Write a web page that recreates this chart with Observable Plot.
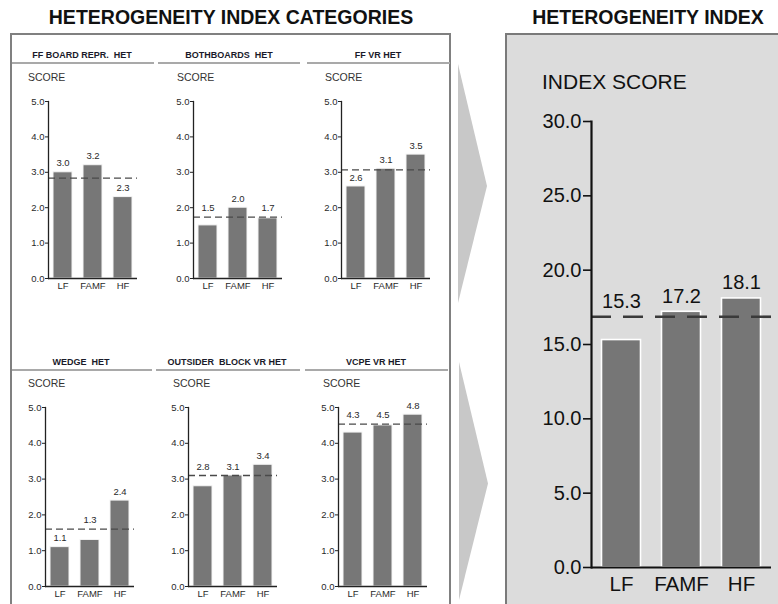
<!DOCTYPE html>
<html>
<head>
<meta charset="utf-8">
<script src="https://cdn.jsdelivr.net/npm/d3@7"></script>
<script src="https://cdn.jsdelivr.net/npm/@observablehq/plot@0.6"></script>
<style>
  html, body { margin: 0; padding: 0; background: #fff; }
  #root { position: relative; width: 778px; height: 604px; overflow: hidden; background: #fff;
          font-family: 'Liberation Sans', Arial, Helvetica, sans-serif; }
  .abs { position: absolute; }
  .title { font-weight: bold; font-size: 19.5px; color: #111; white-space: nowrap; transform: translate(-50%, -50%); }
  .ptitle { font-weight: bold; font-size: 9px; color: #1a1a2a; white-space: pre; transform: translate(-50%, -50%); }
  .hline { height: 2px; background: #a9a9a9; }
  .score { font-size: 10.5px; color: #333; transform: translateY(-50%); white-space: nowrap; }
  .chev { background: #c8c8c8; clip-path: polygon(0 0, 100% 51%, 0 100%); }
  .plot { position: absolute; }
</style>
</head>
<body>
<div id="root"></div>
<script>
// ---- data ----
const groups = ["LF", "FAMF", "HF"];
const categoryTitles = ["FF BOARD REPR.  HET", "BOTHBOARDS  HET", "FF VR HET",
                        "WEDGE  HET", "OUTSIDER  BLOCK VR HET", "VCPE VR HET"];
const ffBoardRepr     = [3.0, 3.2, 2.3];
const bothboards      = [1.5, 2.0, 1.7];
const ffVr            = [2.6, 3.1, 3.5];
const wedge           = [1.1, 1.3, 2.4];
const outsiderBlockVr = [2.8, 3.1, 3.4];
const vcpeVr          = [4.3, 4.5, 4.8];
const indexScore      = [15.3, 17.2, 18.1];
const categoryTicks   = [0, 1, 2, 3, 4, 5];
const indexTicks      = [0, 5, 10, 15, 20, 25, 30];
const mainTitle   = "HETEROGENEITY INDEX CATEGORIES";
const indexTitle  = "HETEROGENEITY INDEX";
const scoreLabel  = "SCORE";
const indexLabel  = "INDEX SCORE";

const categorySeries = [ffBoardRepr, bothboards, ffVr, wedge, outsiderBlockVr, vcpeVr];

// ---- page furniture ----
const FONT = "'Liberation Sans', Arial, Helvetica, sans-serif";
const root = document.getElementById("root");
function el(cls, css, text) {
  const d = document.createElement("div");
  d.className = "abs " + cls;
  Object.assign(d.style, css);
  if (text != null) d.textContent = text;
  root.appendChild(d);
  return d;
}

// outer boxes
el("", {left: "10px", top: "33px", width: "441px", height: "640px", border: "2px solid #808080", boxSizing: "border-box"});
el("", {left: "505px", top: "33px", width: "320px", height: "640px", border: "2px solid #7a7a7a", background: "#dcdcdc", boxSizing: "border-box"});

// arrows between the two boxes
el("chev", {left: "458px", top: "64px", width: "29px", height: "239px"});
el("chev", {left: "459px", top: "362px", width: "29px", height: "238px"});

// headings
el("title", {left: "231px", top: "17px"}, mainTitle);
el("title", {left: "648px", top: "17px"}, indexTitle);

// small-multiple layout: axis origin and vertical extent of each panel
const rowsLayout = [
  {titleY: 55, lineY: 62, scoreY: 77, y5: 101, y0: 278,
   axisX: [48, 193, 341], titleX: [82, 229, 378], line: [[12, 154], [158, 300], [307, 450]], scoreX: [28, 177, 325]},
  {titleY: 362, lineY: 369, scoreY: 383, y5: 407, y0: 586,
   axisX: [45, 188, 338], titleX: [81, 227, 376], line: [[12, 152], [156, 300], [305, 448]], scoreX: [28, 173, 323]}
];

const ML = 26, MR = 2, MT = 14, MB = 22, INNER_W = 89;

function categoryChart(values, y0, y5) {
  const rows = groups.map((g, i) => ({group: g, score: values[i]}));
  const mean = d3.mean(values);
  const innerH = y0 - y5;
  const pxPerUnit = innerH / 5;
  // a label just under the mean line is lifted above it
  const labelAt = v => (mean > v && (mean - v) * pxPerUnit < 13) ? mean : v;
  return Plot.plot({
    width: ML + INNER_W + MR, height: MT + innerH + MB,
    marginLeft: ML, marginRight: MR, marginTop: MT, marginBottom: MB,
    style: {fontFamily: FONT, fontSize: "9.5px", color: "#2a2a2a", background: "transparent", overflow: "visible"},
    x: {domain: groups, paddingInner: 0.367, paddingOuter: 0.167, round: false, label: null},
    y: {domain: [0, 5], label: null},
    marks: [
      Plot.barY(rows, {x: "group", y: "score", fill: "#777777", stroke: "#f4f4f4", strokeWidth: 1}),
      Plot.ruleY([mean], {stroke: "#4a4a4a", strokeWidth: 1.3, strokeDasharray: "7,4"}),
      Plot.text(rows, {x: "group", y: d => labelAt(d.score), text: d => d.score.toFixed(1),
                       dy: -9, fontSize: 9.5, fill: "#2a2a2a"}),
      Plot.axisY({ticks: categoryTicks, tickFormat: d3.format(".1f"), tickSize: 3, tickPadding: 1,
                  fontSize: 9.5, stroke: "#222", label: null}),
      Plot.axisX({tickSize: 0, tickPadding: 4, fontSize: 9.5, label: null}),
      Plot.ruleY([0], {stroke: "#222", strokeWidth: 1.3}),
      Plot.frame({anchor: "left", stroke: "#222", strokeWidth: 1.3})
    ]
  });
}

rowsLayout.forEach((r, ri) => {
  for (let ci = 0; ci < 3; ci++) {
    const k = ri * 3 + ci;
    el("ptitle", {left: r.titleX[ci] + "px", top: r.titleY + "px"}, categoryTitles[k]);
    el("hline", {left: r.line[ci][0] + "px", top: (r.lineY) + "px", width: (r.line[ci][1] - r.line[ci][0]) + "px"});
    el("score", {left: r.scoreX[ci] + "px", top: r.scoreY + "px"}, scoreLabel);
    const chart = categoryChart(categorySeries[k], r.y0, r.y5);
    chart.classList.add("plot");
    chart.style.left = (r.axisX[ci] - ML) + "px";
    chart.style.top = (r.y5 - MT) + "px";
    root.appendChild(chart);
  }
});

// ---- overall index chart ----
el("", {left: "542px", top: "82px", fontSize: "21px", color: "#111", transform: "translateY(-50%)", whiteSpace: "nowrap"}, indexLabel);

{
  const axisX = 591, y0 = 567, y30 = 121, innerW = 180;
  const ml = 60, mr = 4, mt = 14, mb = 34;
  const innerH = y0 - y30;
  const pxPerUnit = innerH / 30;
  const rows = groups.map((g, i) => ({group: g, score: indexScore[i]}));
  const mean = d3.mean(indexScore);
  const labelAt = v => (mean > v && (mean - v) * pxPerUnit < 26) ? mean : v;
  const chart = Plot.plot({
    width: ml + innerW + mr, height: mt + innerH + mb,
    marginLeft: ml, marginRight: mr, marginTop: mt, marginBottom: mb,
    style: {fontFamily: FONT, fontSize: "20px", color: "#111", background: "transparent", overflow: "visible"},
    x: {domain: groups, paddingInner: 0.35, paddingOuter: 0.175, round: false, label: null},
    y: {domain: [0, 30], label: null},
    marks: [
      Plot.barY(rows, {x: "group", y: "score", fill: "#767676", stroke: "white", strokeWidth: 1.6}),
      Plot.ruleY([mean], {stroke: "#3a3a3a", strokeWidth: 2.6, strokeDasharray: "20,12"}),
      Plot.text(rows, {x: "group", y: d => labelAt(d.score), text: d => d.score.toFixed(1),
                       dy: -15.5, fontSize: 20, fill: "#111"}),
      Plot.axisY({ticks: indexTicks, tickFormat: d3.format(".1f"), tickSize: 8, tickPadding: 2,
                  fontSize: 20, stroke: "#111", strokeWidth: 1.6, label: null}),
      Plot.axisX({tickSize: 0, tickPadding: 9, fontSize: 20.5, label: null}),
      Plot.ruleY([0], {stroke: "#111", strokeWidth: 2.2}),
      Plot.frame({anchor: "left", stroke: "#111", strokeWidth: 2.2})
    ]
  });
  chart.classList.add("plot");
  chart.style.left = (axisX - ml) + "px";
  chart.style.top = (y30 - mt) + "px";
  root.appendChild(chart);
}
</script>
</body>
</html>
